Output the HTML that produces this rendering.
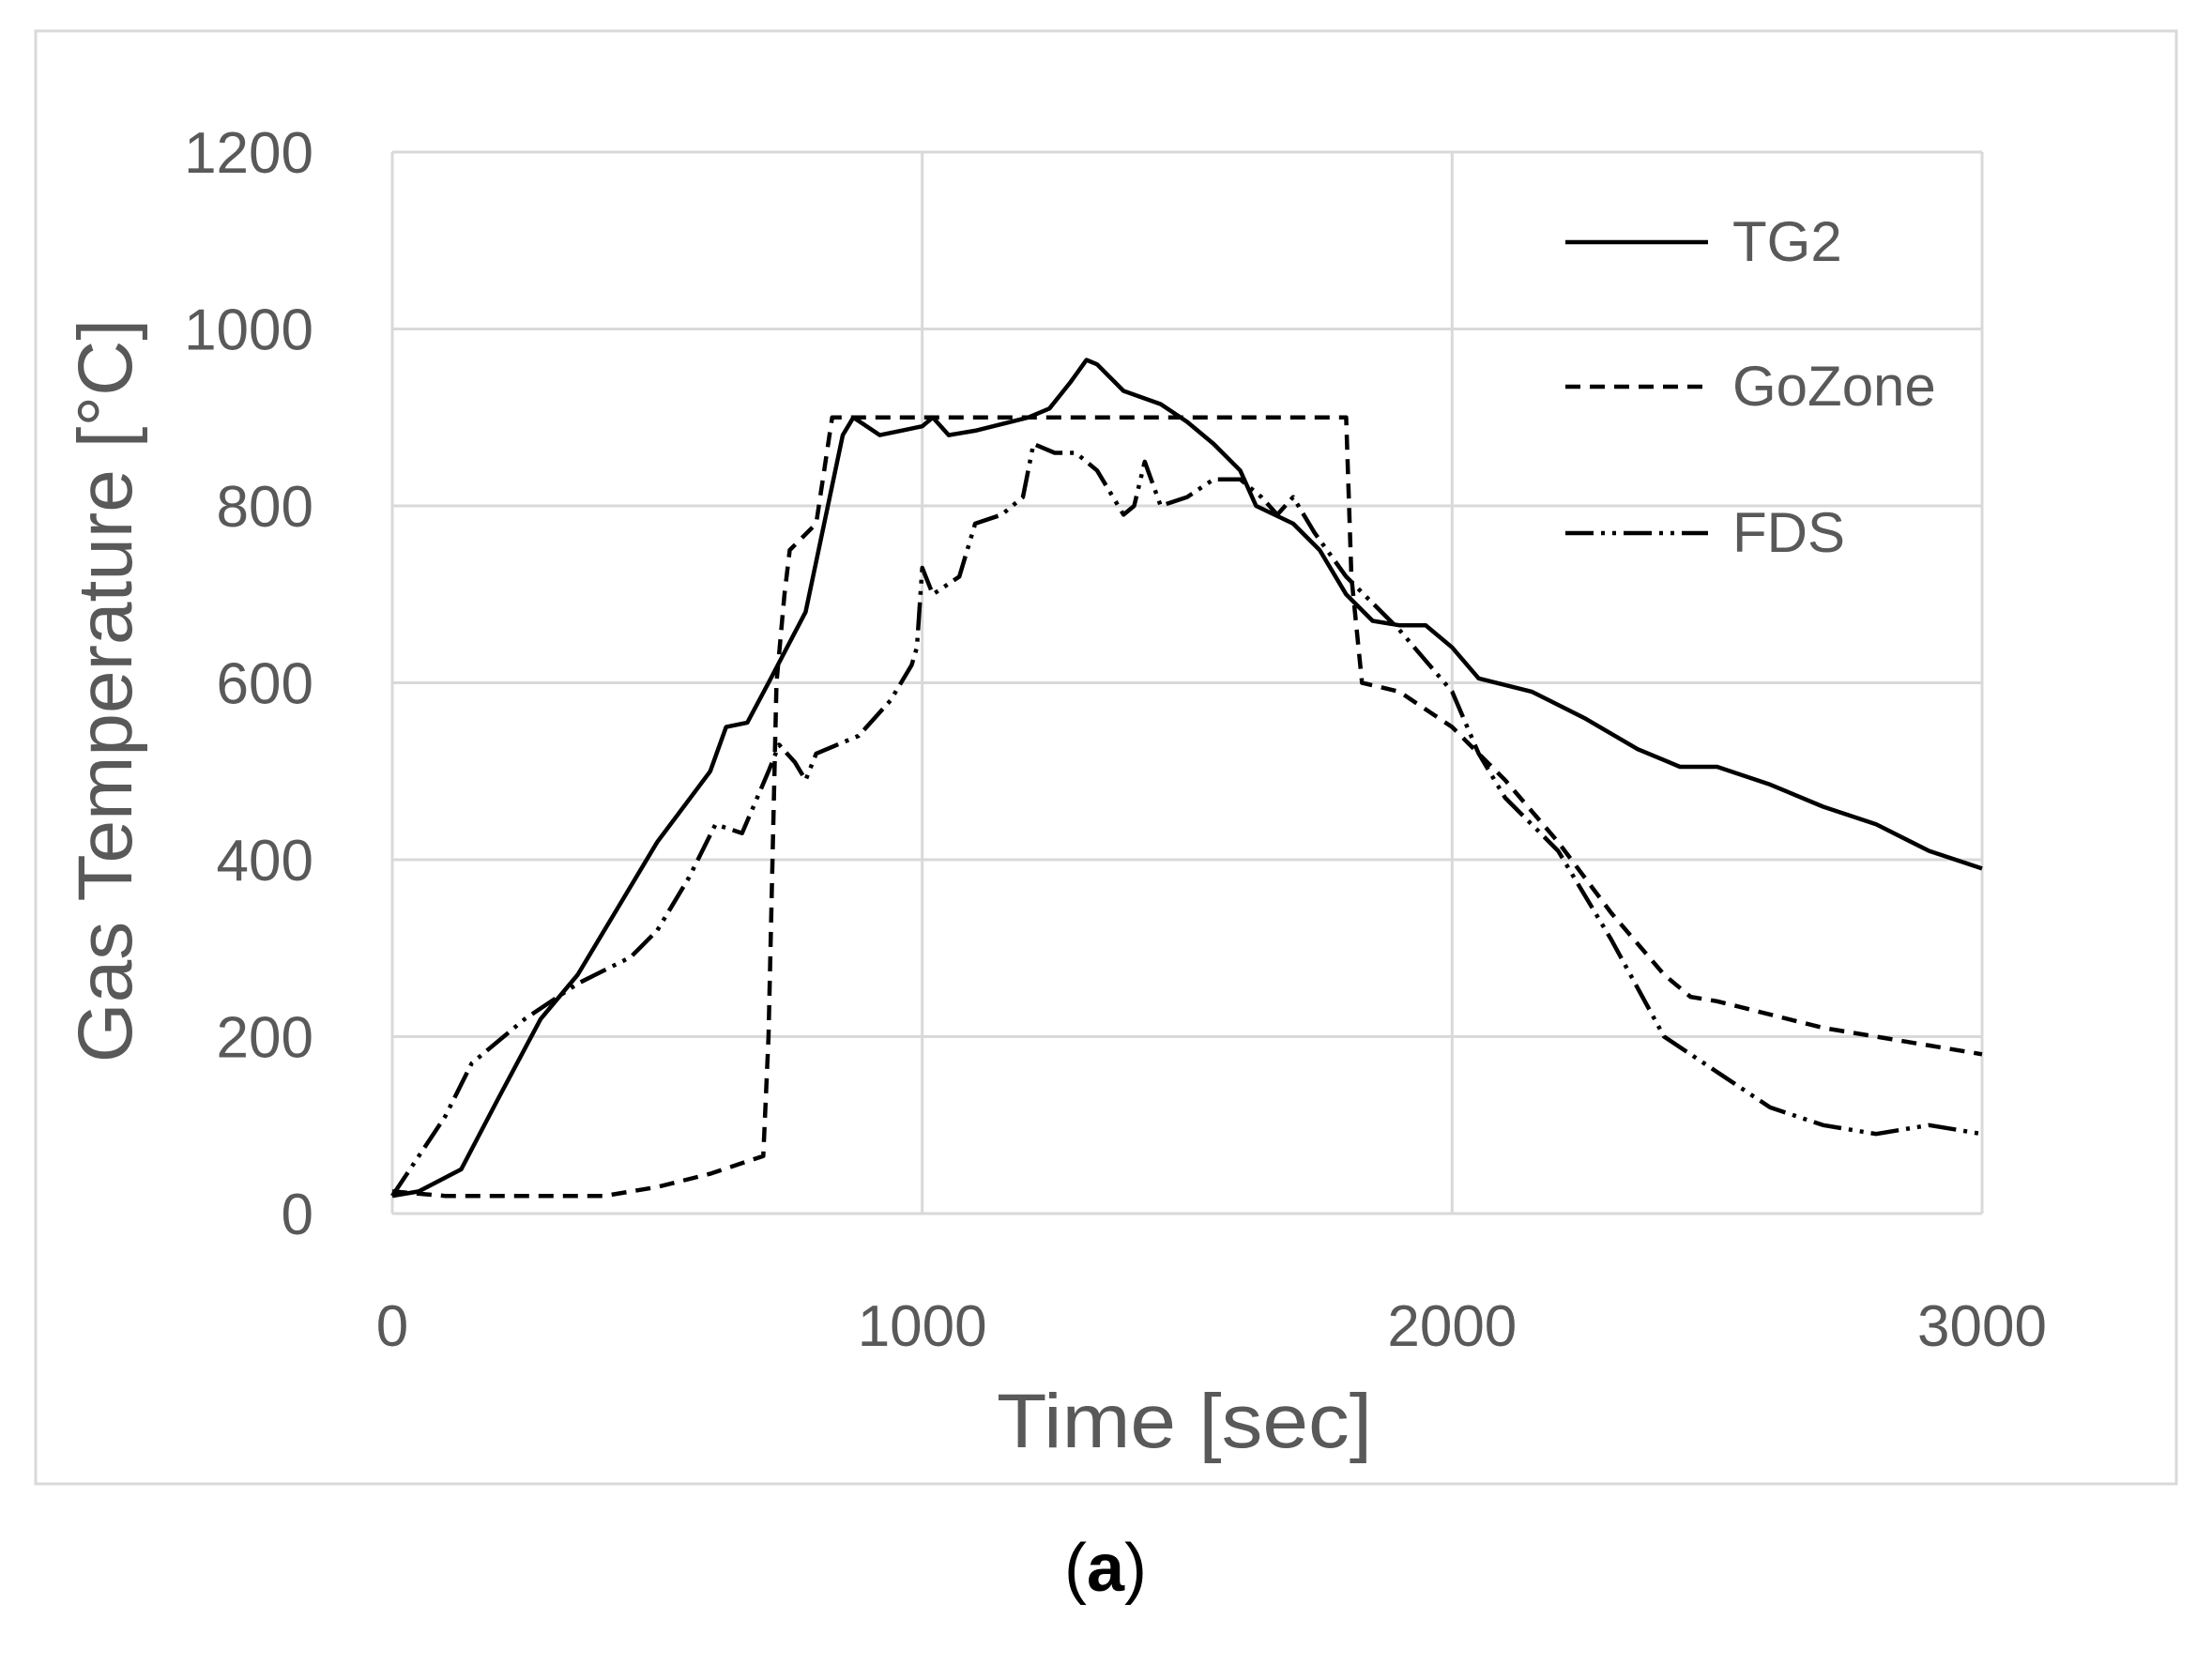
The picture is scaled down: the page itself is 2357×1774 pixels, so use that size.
<!DOCTYPE html>
<html><head><meta charset="utf-8"><style>
html,body{margin:0;padding:0;background:#fff;}
svg{display:block;}
text{font-family:"Liberation Sans",sans-serif;}
</style></head><body>
<svg id="chart" width="2357" height="1774" viewBox="0 0 2357 1774">
<rect x="38" y="33" width="2281" height="1548" fill="#fff" stroke="#d9d9d9" stroke-width="3"/>
<g id="grid"></g>
<g id="ticks"></g>
<g id="series"></g>
<text x="1262" y="1542" font-size="82" fill="#595959" text-anchor="middle" textLength="400" lengthAdjust="spacingAndGlyphs">Time [sec]</text>
<text transform="translate(140,736) rotate(-90)" font-size="82" fill="#595959" text-anchor="middle">Gas Temperature [°C]</text>
<g>
<g><line x1="1668" y1="258" x2="1820" y2="258" stroke="#000" stroke-width="4.5"/><text x="1846" y="278" font-size="60" fill="#595959">TG2</text></g>
<g><line x1="1668" y1="412" x2="1820" y2="412" stroke="#000" stroke-width="4.5" stroke-dasharray="16,10"/><text x="1846" y="432" font-size="60" fill="#595959">GoZone</text></g>
<g><line x1="1668" y1="568" x2="1820" y2="568" stroke="#000" stroke-width="4.5" stroke-dasharray="30,8,4,8,4,8"/><text x="1846" y="588" font-size="60" fill="#595959">FDS</text></g>
</g>
<text x="1178" y="1695" font-size="72" fill="#000" text-anchor="middle" font-family="Liberation Serif, serif">(<tspan font-weight="bold">a</tspan>)</text>
</svg>
<script>
const xTicks=[0,1000,2000,3000];
const yTicks=[0,200,400,600,800,1000,1200];
const tg2T=[0,50,130,200,280,350,420,500,600,630,670,710,780,850,870,920,960,1000,1020,1050,1100,1200,1240,1280,1310,1330,1380,1450,1500,1550,1600,1630,1700,1750,1800,1850,1900,1950,2000,2050,2150,2250,2350,2430,2500,2600,2700,2800,2900,3000];
const tg2V=[20,25,50,130,220,270,340,420,500,550,555,600,680,880,900,880,885,890,900,880,885,900,910,940,965,960,930,915,895,870,840,800,780,750,700,670,665,665,640,605,590,560,525,505,505,485,460,440,410,390];
const goT=[0,100,400,500,600,700,710,725,740,750,800,830,1800,1810,1830,1900,2000,2100,2200,2300,2400,2450,2500,2700,2900,3000];
const goV=[25,20,20,30,45,65,200,600,700,750,780,900,900,720,600,590,550,490,420,340,270,245,240,210,190,180];
const fdsT=[0,100,150,250,350,450,500,560,610,660,710,730,760,780,800,880,940,980,990,1000,1020,1070,1100,1150,1190,1210,1250,1290,1330,1380,1400,1420,1450,1500,1550,1600,1640,1670,1700,1740,1800,1900,2000,2050,2100,2200,2300,2400,2500,2600,2700,2800,2900,3000];
const fdsV=[20,110,170,220,260,290,320,380,440,430,500,530,510,490,520,540,580,620,640,730,700,720,780,790,810,870,860,860,840,790,800,850,800,810,830,830,810,790,810,770,720,660,590,520,470,410,310,200,160,120,100,90,100,90];
const NS='http://www.w3.org/2000/svg';
const X0=418,X1=2112,Y0=1293,Y1=162;
const sx=t=>X0+(t-0)/(3000)*(X1-X0);
const sy=v=>Y0-(v/1200)*(Y0-Y1);
function mk(tag,attrs,parent){const e=document.createElementNS(NS,tag);for(const k in attrs)e.setAttribute(k,attrs[k]);parent.appendChild(e);return e;}
const grid=document.getElementById('grid'),ticks=document.getElementById('ticks'),series=document.getElementById('series');
yTicks.forEach(v=>{
 const l=mk('line',{x1:X0,x2:X1,y1:sy(v),y2:sy(v),stroke:'#d9d9d9','stroke-width':3},grid);
 
 
 const t=mk('text',{x:334,y:sy(v)+22,'font-size':62,fill:'#595959','text-anchor':'end'},ticks);
 t.textContent=v;
 
 
});
xTicks.forEach(v=>{
 const l=mk('line',{x1:sx(v),x2:sx(v),y1:Y1,y2:Y0,stroke:'#d9d9d9','stroke-width':3},grid);
 
 
 const t=mk('text',{x:sx(v),y:1434,'font-size':62,fill:'#595959','text-anchor':'middle'},ticks);
 t.textContent=v;
 
 
});
function line(T,V,dash,name){
 const d=T.map((t,i)=>(i?'L':'M')+sx(t).toFixed(1)+','+sy(V[i]).toFixed(1)).join(' ');
 const p=mk('path',{d:d,fill:'none',stroke:'#000','stroke-width':4.5,'stroke-linejoin':'round'},series);
 if(dash)p.setAttribute('stroke-dasharray',dash);
 
 
}
line(goT,goV,'16,10','gozone-line');
line(fdsT,fdsV,'30,8,4,8,4,8','fds-line');
line(tg2T,tg2V,null,'tg2-line');
</script>
</body></html>
